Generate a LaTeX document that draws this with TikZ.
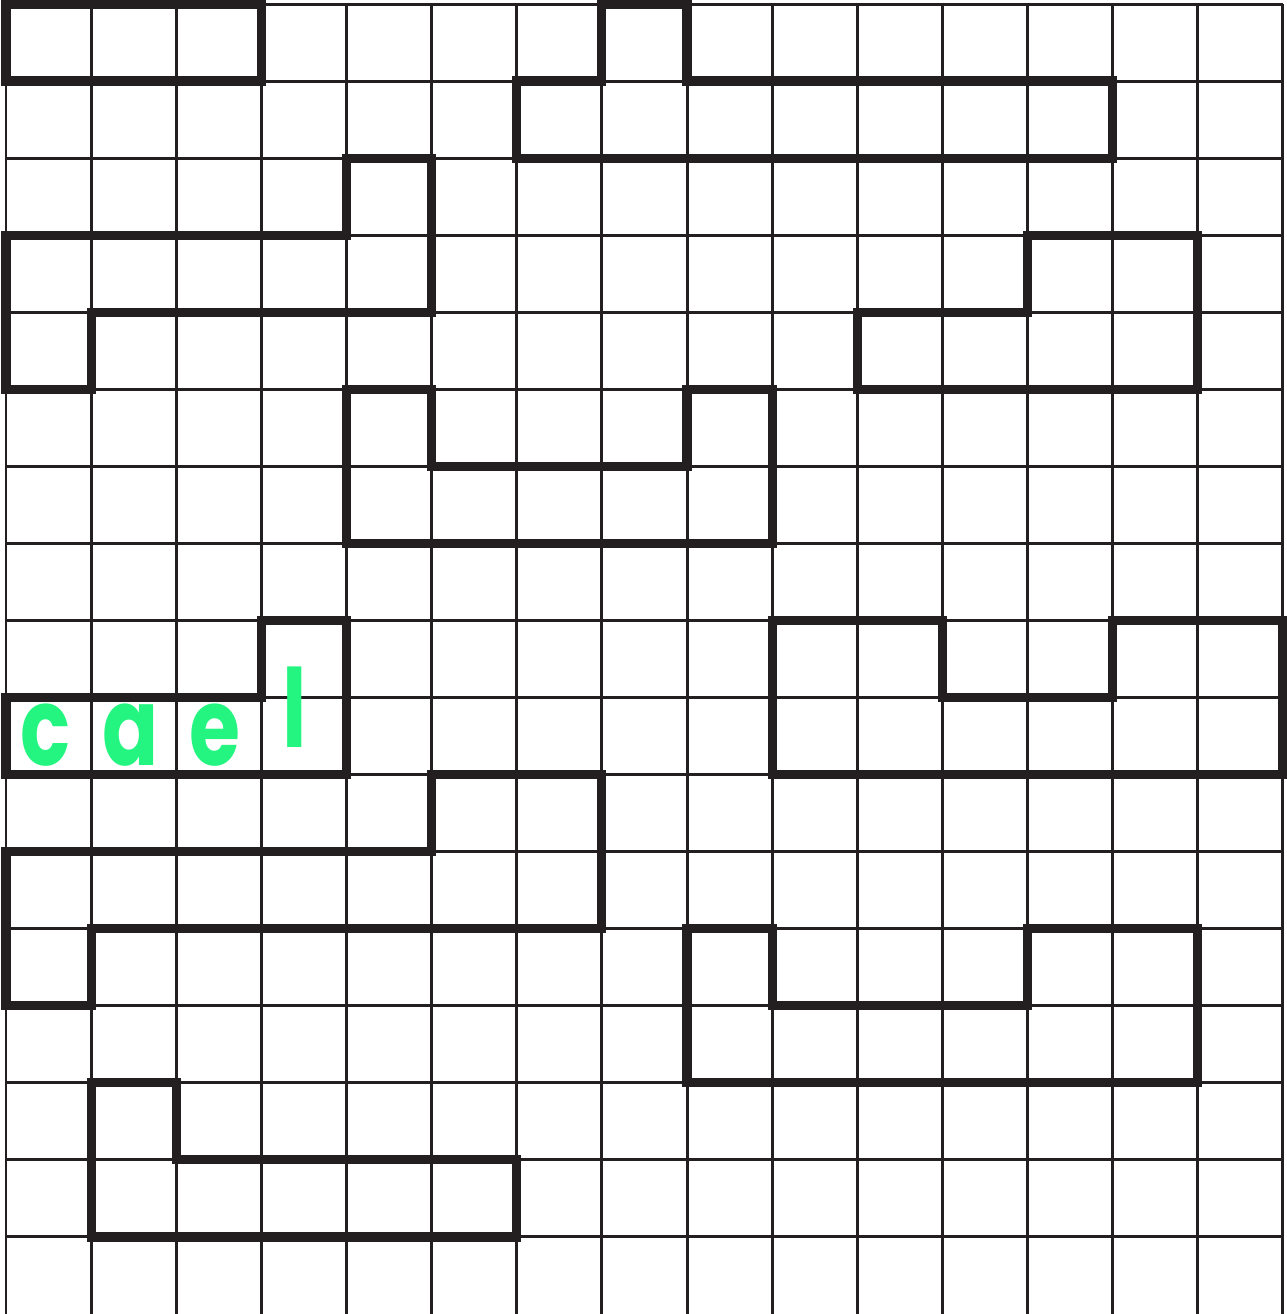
\documentclass[tikz,border=0pt]{standalone}
\usepackage{fontspec}
\newfontfamily\handfont{Poppins}
\definecolor{inkgreen}{RGB}{36,245,128}
\definecolor{inkdark}{RGB}{35,31,32}
\usetikzlibrary{positioning}

\begin{document}
\begin{tikzpicture}[x=0.8513cm,y=-0.7706cm,
gridline/.style={line width=0.85pt,draw=inkdark},
piece/.style={line width=2.6pt,draw=inkdark},
every node/.style={text=inkgreen,font=\handfont\fontsize{31}{34}\selectfont,
  inner sep=0pt,xscale=0.76,transform shape}]
\useasboundingbox (-0.0705,-0.0519) rectangle (15.047,17);
% grid
\foreach \i in {0,...,15} \draw[gridline] (\i,0) -- (\i,17);
\foreach \j in {0,...,16} \draw[gridline] (0,\j) -- (15,\j);
% pieces
\draw[piece] (0,0) rectangle (3,1);
\draw[piece] (7,0) -- (8,0) -- (8,1) -- (13,1) -- (13,2) -- (6,2) -- (6,1) -- (7,1) -- cycle;
\draw[piece] (4,2) -- (5,2) -- (5,4) -- (1,4) -- (1,5) -- (0,5) -- (0,3) -- (4,3) -- cycle;
\draw[piece] (12,3) -- (14,3) -- (14,5) -- (10,5) -- (10,4) -- (12,4) -- cycle;
\draw[piece] (4,5) -- (5,5) -- (5,6) -- (8,6) -- (8,5) -- (9,5) -- (9,7) -- (4,7) -- cycle;
\draw[piece] (3,8) -- (4,8) -- (4,10) -- (0,10) -- (0,9) -- (3,9) -- cycle;
\draw[piece] (9,8) -- (11,8) -- (11,9) -- (13,9) -- (13,8) -- (15,8) -- (15,10) -- (9,10) -- cycle;
\draw[piece] (5,10) -- (7,10) -- (7,12) -- (1,12) -- (1,13) -- (0,13) -- (0,11) -- (5,11) -- cycle;
\draw[piece] (8,12) -- (9,12) -- (9,13) -- (12,13) -- (12,12) -- (14,12) -- (14,14) -- (8,14) -- cycle;
\draw[piece] (1,14) -- (2,14) -- (2,15) -- (6,15) -- (6,16) -- (1,16) -- cycle;
% letters
\node (c) at (0.46,9.49) {\bfseries c};
\node (a) at (1.46,9.49) {\bfseries a};
\node (e) at (2.45,9.49) {\bfseries e};
\node (l) at (3.39,9.12) {\bfseries l};
\end{tikzpicture}
\end{document}
